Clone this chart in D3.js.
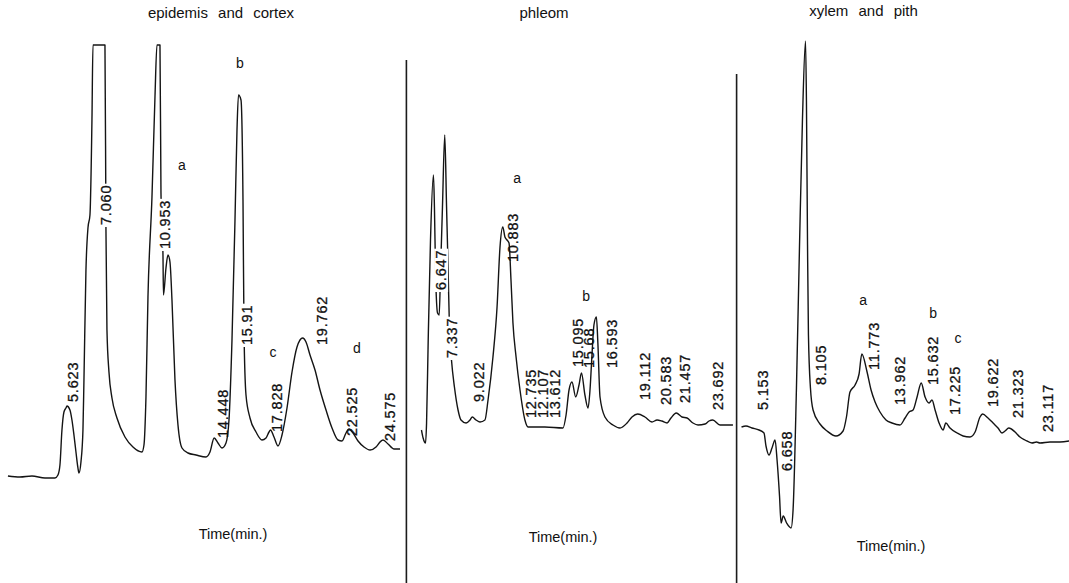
<!DOCTYPE html>
<html>
<head>
<meta charset="utf-8">
<script src="https://cdn.jsdelivr.net/npm/d3@7"></script>
<style>
  html, body { margin: 0; padding: 0; background: #fff; }
  svg { display: block; }
  text { font-family: "Liberation Sans", Arial, sans-serif; fill: #111; }
</style>
</head>
<body>
<svg id="chart" width="1069" height="583"></svg>
<script>
// ---------------------------------------------------------------
// HPLC chromatograms of three stem tissues.
// Time in minutes, detector signal in relative units (full scale 86.2).
// ---------------------------------------------------------------
const panelTitles = ["epidemis and cortex", "phleom", "xylem and pith"];
const axisTitle = "Time(min.)";

// epidemis and cortex
const time1 = [2.08,2.80,3.52,4.30,4.90,5.08,5.20,5.32,5.44,5.56,5.62,5.80,5.92,6.04,6.16,6.28,6.34,6.46,6.58,6.64,6.76,6.88,7.00,7.12,7.18,7.90,7.96,8.02,8.14,8.32,8.62,9.10,9.58,10.12,10.24,10.36,10.48,10.72,10.90,11.02,11.20,11.26,11.38,11.41,11.56,11.68,11.80,11.92,12.10,12.28,12.52,12.88,13.36,13.96,14.20,14.45,14.68,14.92,15.16,15.34,15.52,15.70,15.82,15.91,16.06,16.18,16.24,16.36,16.60,16.96,17.32,17.56,17.74,17.83,18.04,18.28,18.52,18.82,19.12,19.42,19.76,19.96,20.20,20.50,20.80,21.16,21.52,21.88,22.12,22.36,22.53,22.78,23.08,23.44,23.80,24.16,24.40,24.58,24.88,25.24,25.60];
const signal1 = [0,-0.2,0,-0.4,-0.4,0.2,2.2,9.2,12.8,13.6,14,13.2,11.2,8.2,4.8,1.6,0.6,2.8,9.2,19.2,41.2,49.6,52.2,71.2,86.2,86.2,49.2,29.2,20.8,15.6,11.6,7.8,5.8,4.8,6.2,15.8,35.8,55.8,75.8,86.2,86.2,56.6,44.2,36.2,41.6,44.2,42.8,35.2,19.2,10.2,5.6,4.6,4.2,3.8,4.8,7.6,6.6,5.6,6.6,11.2,27.2,51.2,69.2,76.2,75.2,55.2,29.2,16.2,11.6,8.8,7.2,7.6,8.8,9.2,7.8,6,8.2,13.6,20.8,25.8,27.6,26.8,24.2,21.2,17.2,13.2,9.6,7.2,7,8.6,9.4,8.6,7,5.8,5.2,5.8,6.8,7.2,6.4,5.4,5.4];
const peaks1 = ["5.623","7.060","10.953","14.448","15.91","17.828","19.762","22.525","24.575"];
const letters1 = ["a","b","c","d"];
const letterTime1 = [12.52,16.00,17.98,23.02];
const letterSignal1 = [62.2,82.6,24.8,25.6];

// phleom
const time2 = [5.92,6.02,6.17,6.23,6.33,6.47,6.65,6.71,6.78,6.90,7.00,7.08,7.20,7.34,7.45,7.55,7.63,7.75,7.93,8.15,8.33,8.64,8.88,9.02,9.25,9.49,9.79,9.98,10.28,10.53,10.71,10.88,11.01,11.14,11.26,11.38,11.50,11.69,11.93,12.23,12.42,13.45,14.55,14.74,14.92,15.10,15.33,15.53,15.68,15.89,16.08,16.20,16.32,16.44,16.59,16.68,16.81,17.11,17.60,18.03,18.46,18.76,19.11,19.55,19.98,20.29,20.58,20.90,21.14,21.46,21.81,22.12,22.48,22.79,23.22,23.46,23.69,24.13,24.92];
const signal2 = [9.2,7.6,6.6,10.6,27.2,47.2,60.2,53.8,40.6,32.6,32.2,40.6,53.8,68.2,53.8,40.6,29.2,23.2,17.8,13.2,11.2,10.6,11.2,11.8,11.2,10.8,11.2,15.2,23.8,33.8,45.8,49.8,47.8,47.2,46.6,39.2,30.6,23.8,17.2,11.2,9.8,9.8,9.6,12.2,17.2,18.8,15.8,18.2,20.6,16.2,13.6,17.2,24.2,30.2,31.8,26.6,15.8,11.8,10.2,9.6,10.6,11.8,12.4,11.8,10.8,11.2,11,10.6,11.6,12.6,11.8,11.6,10.6,10.2,10.4,11,11.2,10.2,10.2];
const peaks2 = ["6.647","7.337","9.022","10.883","12.735","12.107","13.612","15.095","15.68","16.593","19.112","20.583","21.457","23.692"];
const letters2 = ["a","b"];
const letterTime2 = [11.75,15.96];
const letterSignal2 = [59.6,36];

// xylem and pith
const time3 = [3.95,4.24,4.63,5.09,5.41,5.54,5.74,5.93,6.13,6.26,6.42,6.52,6.66,6.88,7.17,7.30,7.52,7.72,7.91,8.11,8.17,8.24,8.30,8.43,8.60,9.05,9.51,10.09,10.55,10.77,11.00,11.33,11.59,11.77,12.11,12.37,12.63,12.95,13.34,13.73,14.25,14.58,14.84,15.10,15.36,15.63,15.88,16.14,16.33,16.53,16.79,17.05,17.23,17.50,17.96,18.35,18.80,19.13,19.45,19.62,19.97,20.30,20.62,20.88,21.08,21.32,21.73,22.05,22.38,22.83,23.12,23.35,24.00,24.65,25.24];
const signal3 = [9.8,10,9.6,9.2,8.6,6,4.2,5.6,7.2,3.2,-4,-9.4,-8,-9.4,-10.4,-6.8,17.6,46.2,71.2,87,74.8,46.2,28.2,17.6,13.2,10.4,9,8,9,11.8,16.8,18.2,20.4,24.4,20.8,17.2,14.8,12.8,11.2,10.6,10.2,11.6,12.8,13.2,15.8,18.6,15.8,14.6,15.2,13.2,10.6,9.2,10.6,9.6,8.6,8,7.8,8.8,11.8,12.4,11.6,10.6,9.6,8.6,9,9.6,8.8,7.8,7.2,6.6,6.8,6.6,6.8,6.8,7];
const peaks3 = ["5.153","6.658","8.105","11.773","13.962","15.632","17.225","19.622","21.323","23.117"];
const letters3 = ["a","b","c"];
const letterTime3 = [11.85,16.40,18.02];
const letterSignal3 = [35.2,32.6,27.6];

// ---------------------------------------------------------------
// Layout: where each printed retention time sits relative to its peak
// (horizontal nudge in px, lower end in signal units, and whether the
// printout interrupts the pen trace there).
// ---------------------------------------------------------------
const labelDx1 = [6,15,9,9,8,6.5,19,3,7];
const labelBase1 = [14.8,50.2,45.4,7.6,26.2,8.8,26.2,8,7];
const labelCut1 = [0,1,1,0,1,0,0,0,0];

const labelDx2 = [7.5,7,6,10,-2.5,20,7,6,7.5,15.5,7,4,9,5];
const labelBase2 = [37.2,23.6,14.8,42.8,11.6,11.6,11.6,21.8,21.6,21.6,15.2,14.2,14.6,13.2];
const labelCut2 = [1,1,0,0,0,0,0,0,0,0,0,0,0,0];

const labelDx3 = [3,3.5,15.5,12,4.5,11.5,9,10.5,9,11.5];
const labelBase3 = [13.2,1,18.2,21.2,14.2,18.2,12.2,13.8,11.6,8.8];
const labelCut3 = [0,0,0,0,0,0,0,0,0,0];

const svg = d3.select("#chart");

// One signal scale shared by the three strips
const y = d3.scaleLinear().domain([0, 86.2]).range([476, 45]);

const panels = [
  { title: panelTitles[0], titleX: 221, titleY: 18, timeX: 233, timeY: 539,
    x: d3.scaleLinear().domain([2, 26]).range([6.6, 406.7]), axisFrom: null,
    time: time1, signal: signal1, peaks: peaks1, dx: labelDx1, base: labelBase1, cut: labelCut1,
    letters: letters1, lt: letterTime1, ls: letterSignal1 },
  { title: panelTitles[1], titleX: 544, titleY: 18, timeX: 563, timeY: 542,
    x: d3.scaleLinear().domain([5, 25]).range([406.4, 734.26]), axisFrom: 60,
    time: time2, signal: signal2, peaks: peaks2, dx: labelDx2, base: labelBase2, cut: labelCut2,
    letters: letters2, lt: letterTime2, ls: letterSignal2 },
  { title: panelTitles[2], titleX: 863.5, titleY: 16, timeX: 891, timeY: 551,
    x: d3.scaleLinear().domain([3.63, 25.3]).range([736.6, 1070]), axisFrom: 74,
    time: time3, signal: signal3, peaks: peaks3, dx: labelDx3, base: labelBase3, cut: labelCut3,
    letters: letters3, lt: letterTime3, ls: letterSignal3 }
];

panels.forEach(p => {
  const g = svg.append("g");
  const x = p.x;

  // strip edge at the start of the time scale
  if (p.axisFrom !== null) {
    const x0 = x(x.domain()[0]);
    g.append("line")
      .attr("x1", x0).attr("x2", x0)
      .attr("y1", p.axisFrom).attr("y2", 583)
      .attr("stroke", "#1c1c1c").attr("stroke-width", 1.6);
  }

  // pen trace
  const pts = p.time.map((t, i) => [t, p.signal[i]]);
  const line = d3.line()
    .x(d => x(d[0]))
    .y(d => y(d[1]))
    .curve(d3.curveMonotoneX);
  g.append("path")
    .attr("d", line(pts))
    .attr("fill", "none")
    .attr("stroke", "#141414")
    .attr("stroke-width", 1.4)
    .attr("stroke-linejoin", "round");

  // printed retention times, rotated along the chart paper
  p.peaks.forEach((rt, i) => {
    const lg = g.append("g")
      .attr("transform", `translate(${x(+rt) + p.dx[i]},${y(p.base[i])}) rotate(-90)`);
    const txt = lg.append("text")
      .attr("x", 0).attr("y", 0).attr("dy", "0.36em")
      .attr("font-size", 14.5)
      .attr("letter-spacing", 0.8)
      .attr("stroke", "#111").attr("stroke-width", 0.3)
      .text(rt);
    if (p.cut[i]) {
      const bb = txt.node().getBBox();
      lg.insert("rect", "text")
        .attr("x", bb.x - 2).attr("y", bb.y + 1)
        .attr("width", bb.width + 3).attr("height", bb.height - 2)
        .attr("fill", "#fff");
    }
  });

  // peak letters
  p.letters.forEach((l, i) => {
    g.append("text")
      .attr("x", x(p.lt[i])).attr("y", y(p.ls[i]))
      .attr("text-anchor", "middle").attr("dy", "0.35em")
      .attr("font-size", 14)
      .text(l);
  });

  // strip title and time caption
  g.append("text")
    .attr("x", p.titleX).attr("y", p.titleY)
    .attr("text-anchor", "middle")
    .attr("font-size", 15).attr("word-spacing", 6)
    .text(p.title);
  g.append("text")
    .attr("x", p.timeX).attr("y", p.timeY)
    .attr("text-anchor", "middle")
    .attr("font-size", 14.5)
    .text(axisTitle);
});
</script>
</body>
</html>
